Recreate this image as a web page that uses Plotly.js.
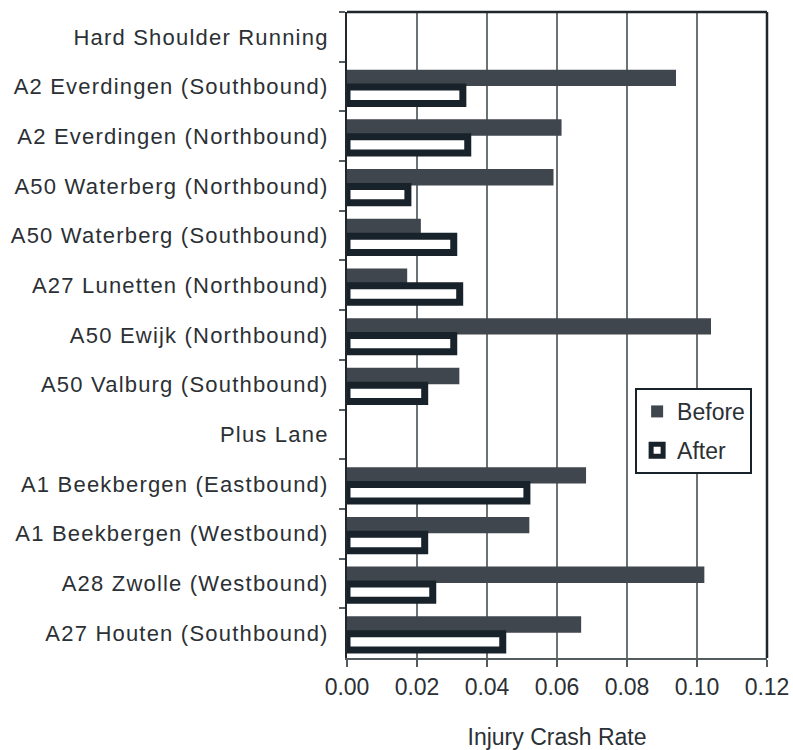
<!DOCTYPE html>
<html>
<head>
<meta charset="utf-8">
<script src="https://cdn.plot.ly/plotly-3.0.1.min.js"></script>
<style>
html,body{margin:0;padding:0;background:#fff;}
#chart .ytick text{letter-spacing:1.2px;}
</style>
</head>
<body>
<div id="chart" style="width:793px;height:750px;"></div>
<script>
var categories = [
  "Hard Shoulder Running",
  "A2 Everdingen (Southbound)",
  "A2 Everdingen (Northbound)",
  "A50 Waterberg (Northbound)",
  "A50 Waterberg (Southbound)",
  "A27 Lunetten (Northbound)",
  "A50 Ewijk (Northbound)",
  "A50 Valburg (Southbound)",
  "Plus Lane",
  "A1 Beekbergen (Eastbound)",
  "A1 Beekbergen (Westbound)",
  "A28 Zwolle (Westbound)",
  "A27 Houten (Southbound)"
];
var beforeValues = [null, 0.094, 0.0613, 0.059, 0.0211, 0.0172, 0.104, 0.0321, null, 0.0683, 0.0521, 0.1021, 0.0669];
var afterValues  = [null, 0.0331, 0.0345, 0.0174, 0.0305, 0.0322, 0.0305, 0.0222, null, 0.0514, 0.0222, 0.0245, 0.0445];
var xTickValues = [0, 0.02, 0.04, 0.06, 0.08, 0.10, 0.12];
var xTickLabels = ["0.00", "0.02", "0.04", "0.06", "0.08", "0.10", "0.12"];

var textColor = "#2b3035";
var fontFamily = "Liberation Sans, Arial, sans-serif";

var traces = [
  {
    type: "bar", orientation: "h", name: "Before", legendgroup: "before",
    y: categories, x: beforeValues,
    marker: {color: "#40464d", line: {width: 0}}
  },
  {
    type: "bar", orientation: "h", name: "After", legendgroup: "after",
    y: categories, x: afterValues,
    marker: {color: "#ffffff", line: {color: "#17222a", width: 7}}
  }
];

var layout = {
  width: 793, height: 750,
  margin: {l: 347, r: 26, t: 12, b: 92},
  paper_bgcolor: "#ffffff", plot_bgcolor: "#ffffff",
  font: {family: fontFamily, color: textColor, size: 20},
  barmode: "group", bargap: 0.3, bargroupgap: 0.06,
  showlegend: true,
  legend: {
    x: 0.686, y: 0.418, xanchor: "left", yanchor: "top",
    bgcolor: "#ffffff", bordercolor: "#17222a", borderwidth: 2,
    font: {size: 23, family: fontFamily, color: textColor},
    traceorder: "grouped", itemwidth: 30, tracegroupgap: 6
  },
  xaxis: {
    range: [0, 0.12], tickvals: xTickValues, ticktext: xTickLabels,
    showgrid: true, gridcolor: "#6b7276", gridwidth: 2,
    zeroline: false, showline: true, linecolor: "#555c60", linewidth: 2, mirror: false,
    ticks: "outside", ticklen: 7, tickwidth: 2, tickcolor: "#555c60",
    tickfont: {size: 23, family: fontFamily, color: textColor},
    title: {text: "Injury Crash Rate", font: {size: 23, family: fontFamily, color: textColor}, standoff: 33},
    fixedrange: true
  },
  yaxis: {
    type: "category", autorange: "reversed",
    showgrid: false, zeroline: false, showline: true, linecolor: "#1f272c", linewidth: 2,
    ticks: "outside", tickson: "boundaries", ticklen: 6, tickwidth: 2, tickcolor: "#555c60",
    tickfont: {size: 22, family: fontFamily, color: textColor},
    ticklabelstandoff: 12, automargin: false,
    fixedrange: true
  },
  shapes: [
    {type: "line", xref: "paper", yref: "paper", x0: 0, x1: 1, y0: 1, y1: 1, line: {color: "#1f272c", width: 2.5}},
    {type: "line", xref: "paper", yref: "paper", x0: 1, x1: 1, y0: 0, y1: 1, line: {color: "#1f272c", width: 2.5}}
  ]
};

Plotly.newPlot("chart", traces, layout, {displayModeBar: false, staticPlot: true});
</script>
</body>
</html>
